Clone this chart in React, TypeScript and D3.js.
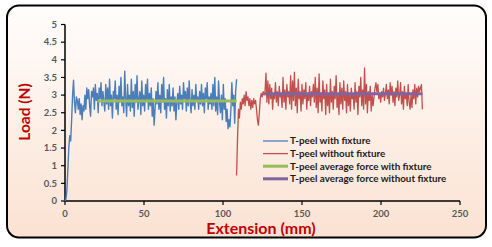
import * as d3 from 'd3';

const withStart = 0;
const withStep = 0.6;
const withFixture = [
  0, 0.05, 0.3, 0.9, 1.5, 1.85, 1.7, 2.3, 3.0, 3.42, 2.8, 2.5, 2.95, 2.85,
  2.6, 2.9, 2.45, 2.75, 2.3, 2.7, 2.55, 3.0, 2.6, 3.2,
  2.9, 3.15, 2.7, 2.4, 3.1, 2.95, 3.2, 2.6, 3.3, 2.85,
  3.05, 2.5, 3.2, 2.9, 3.35, 2.7, 3.1, 2.8, 2.55, 3.3,
  2.75, 3.2, 2.6, 3.45, 2.7, 3.0, 2.35, 3.1, 2.9, 3.4,
  2.6, 3.0, 2.45, 3.25, 2.8, 3.5, 2.7, 2.95, 2.5, 3.68,
  2.9, 2.4, 3.3, 2.7, 3.0, 2.55, 3.45, 2.65, 3.1, 2.4,
  3.3, 2.8, 3.55, 2.6, 2.9, 3.1, 2.45, 3.4, 2.7, 3.0,
  2.55, 3.3, 2.85, 3.45, 2.6, 3.05, 2.7, 3.2, 2.4, 2.9,
  2.15, 2.6, 3.1, 2.75, 3.35, 2.6, 3.0, 2.5, 3.3, 2.8,
  3.5, 2.6, 2.9, 2.35, 3.15, 2.7, 3.3, 2.55, 2.95, 2.7,
  3.2, 2.55, 2.95, 2.3, 2.8, 3.05, 2.6, 3.25, 2.75, 3.0,
  2.6, 3.35, 2.9, 3.1, 2.55, 3.2, 2.7, 3.4, 2.8, 2.5,
  3.15, 2.7, 3.0, 2.6, 3.3, 2.85, 2.95, 2.6, 3.1, 2.75,
  3.3, 2.7, 3.05, 2.5, 3.2, 2.9, 3.35, 2.6, 2.95, 2.75,
  3.05, 2.6, 3.3, 2.7, 3.5, 2.55, 2.95, 2.45, 3.4, 2.8,
  2.5, 3.0, 2.3, 3.3, 2.6, 2.9, 2.25, 2.6, 2.05, 2.3,
  2.1, 2.6, 3.35, 2.7, 3.0, 2.2, 3.1, 3.45,
];

const withoutStart = 108.6;
const withoutStep = 0.6;
const withoutFixture = [
  0.72, 1.8, 2.6, 2.35, 2.8, 2.6, 2.9, 2.75, 3.0, 2.7,
  3.1, 2.85, 2.95, 2.7, 2.9, 2.6, 2.85, 2.65, 2.9, 2.75,
  2.85, 2.6, 2.3, 2.15, 2.5, 2.9, 3.05, 2.95, 3.1, 3.0,
  3.1, 3.62, 2.8,
  3.4, 2.75, 3.3, 2.9, 3.2, 2.6, 3.05, 2.9, 3.35, 2.8,
  3.1, 2.7, 3.25, 2.95, 3.0, 2.65, 3.5, 2.8, 3.15, 2.6,
  3.3, 2.95, 3.1, 2.75, 3.55, 2.6, 3.4, 2.85, 3.65, 2.7,
  3.2, 2.5, 3.45, 2.9, 3.1, 2.55, 3.3, 2.75, 3.15, 2.9,
  3.35, 2.6, 3.05, 2.85, 3.25, 2.7, 3.1, 2.95, 3.3, 2.8,
  3.5, 2.65, 3.2, 2.5, 3.6, 2.8, 3.0, 2.55, 3.4, 2.9,
  3.15, 2.45, 3.3, 2.7, 3.05, 2.5, 3.45, 2.8, 3.1, 2.6,
  3.25, 2.9, 3.55, 2.65, 3.0, 2.45, 3.35, 2.75, 3.2, 2.6,
  3.4, 2.85, 3.1, 2.5, 3.3, 2.7, 3.05, 2.55, 3.2, 2.9,
  3.0, 2.6, 3.35, 2.8, 3.1, 2.45, 3.25, 2.95, 3.5, 2.7,
  3.15, 2.6, 3.77, 2.75, 3.3, 2.5, 3.1, 2.85, 3.25, 2.55,
  3.0, 2.7, 2.95, 3.2, 3.35, 3.1, 3.3, 2.9, 3.05, 2.8,
  3.1, 2.95, 3.2, 2.85, 3.05, 3.3, 2.9, 3.15, 2.75, 3.35,
  3.0, 3.25, 2.8, 3.1, 2.7, 3.2, 2.95, 3.4, 2.85, 3.0,
  3.35, 2.75, 3.1, 2.6, 3.25, 2.9, 3.05, 2.7, 3.3, 2.8,
  2.6, 3.0, 2.65, 3.15, 2.9, 3.3, 2.75, 3.2, 2.95, 3.25,
  3.1, 3.2, 3.3, 2.6,
];

const avgWith = { x0: 20.5, x1: 108.6, y: 2.83 };
const avgWithout = { x0: 126.5, x1: 226.2, y: 3.04 };

const xTicks = [0, 50, 100, 150, 200, 250];
const yTicks = [0, 0.5, 1, 1.5, 2, 2.5, 3, 3.5, 4, 4.5, 5];

const legendItems = [
  { label: 'T-peel with fixture', color: '#4a7ebb', width: 1.3 },
  { label: 'T-peel without fixture', color: '#c0504d', width: 1.3 },
  { label: 'T-peel average force with fixture', color: '#9bbb59', width: 3 },
  { label: 'T-peel average force without fixture', color: '#8064a2', width: 3 },
];

const W = 492;
const H = 247;
const FONT = 'Lato, "Open Sans", sans-serif';

export default function App() {
  const x = d3.scaleLinear().domain([0, 250]).range([65, 460]);
  const y = d3.scaleLinear().domain([0, 5]).range([201, 24.5]);

  const line = d3.line<number>().curve(d3.curveLinear);
  const pathWith = line.x((_, i) => x(withStart + i * withStep)).y(d => y(d))(withFixture)!;
  const pathWithout = line.x((_, i) => x(withoutStart + i * withoutStep)).y(d => y(d))(withoutFixture)!;

  return (
    <svg width={W} height={H} style={{ position: 'absolute', left: 0, top: 0 }}>
      <defs>
        <linearGradient id="bg" x1="0" y1="0" x2="0" y2="1">
          <stop offset="0%" stopColor="#fffdfc" />
          <stop offset="100%" stopColor="#fbe2d2" />
        </linearGradient>
      </defs>
      <rect x={0} y={0} width={W} height={H} fill="#fff" />
      <rect x={7} y={5.5} width={479} height={232} rx={12} fill="url(#bg)" stroke="#000" strokeWidth={2} />

      {/* y axis */}
      <line x1={x(0)} x2={x(0)} y1={y(5)} y2={y(0)} stroke="#000" strokeWidth={1.5} />
      {yTicks.map(t => (
        <g key={t}>
          <line x1={x(0) - 4} x2={x(0)} y1={y(t)} y2={y(t)} stroke="#000" strokeWidth={1.2} />
          <text x={57} y={y(t)} dy="0.35em" textAnchor="end" fontFamily={FONT} fontSize={9.5}
            fontWeight={700} fill="#595959">{t}</text>
        </g>
      ))}

      {/* x axis */}
      <line x1={x(0)} x2={x(250)} y1={y(0)} y2={y(0)} stroke="#000" strokeWidth={1.5} />
      {xTicks.map(t => (
        <g key={t}>
          <line x1={x(t)} x2={x(t)} y1={y(0)} y2={y(0) + 4} stroke="#000" strokeWidth={1.2} />
          <text x={x(t)} y={217} textAnchor="middle" fontFamily={FONT} fontSize={9.5}
            fontWeight={700} fill="#595959">{t}</text>
        </g>
      ))}

      {/* series */}
      <path d={pathWith} fill="none" stroke="#4a7ebb" strokeWidth={1.4} strokeLinejoin="round" />
      <path d={pathWithout} fill="none" stroke="#c0504d" strokeWidth={1.3} strokeLinejoin="round" />
      <line x1={x(avgWith.x0)} x2={x(avgWith.x1)} y1={y(avgWith.y)} y2={y(avgWith.y)}
        stroke="#9bbb59" strokeWidth={3} />
      <line x1={x(avgWithout.x0)} x2={x(avgWithout.x1)} y1={y(avgWithout.y)} y2={y(avgWithout.y)}
        stroke="#8064a2" strokeWidth={3} />

      {/* legend */}
      {legendItems.map((d, i) => (
        <g key={d.label} transform={`translate(263,${141 + i * 12.6})`}>
          <line x1={0} x2={25} y1={0} y2={0} stroke={d.color} strokeWidth={d.width} />
          <text x={27} y={0} dy="0.35em" fontFamily={FONT} fontSize={9.8} fontWeight={700}
            fill="#1a1a1a">{d.label}</text>
        </g>
      ))}

      {/* axis titles */}
      <text transform="translate(30,112) rotate(-90)" textAnchor="middle" fontFamily={FONT}
        fontSize={15.5} fontWeight={700} fill="#c00000">Load (N)</text>
      <text x={261} y={233.5} textAnchor="middle" fontFamily={FONT} fontSize={16}
        fontWeight={700} fill="#c00000">Extension (mm)</text>
    </svg>
  );
}
